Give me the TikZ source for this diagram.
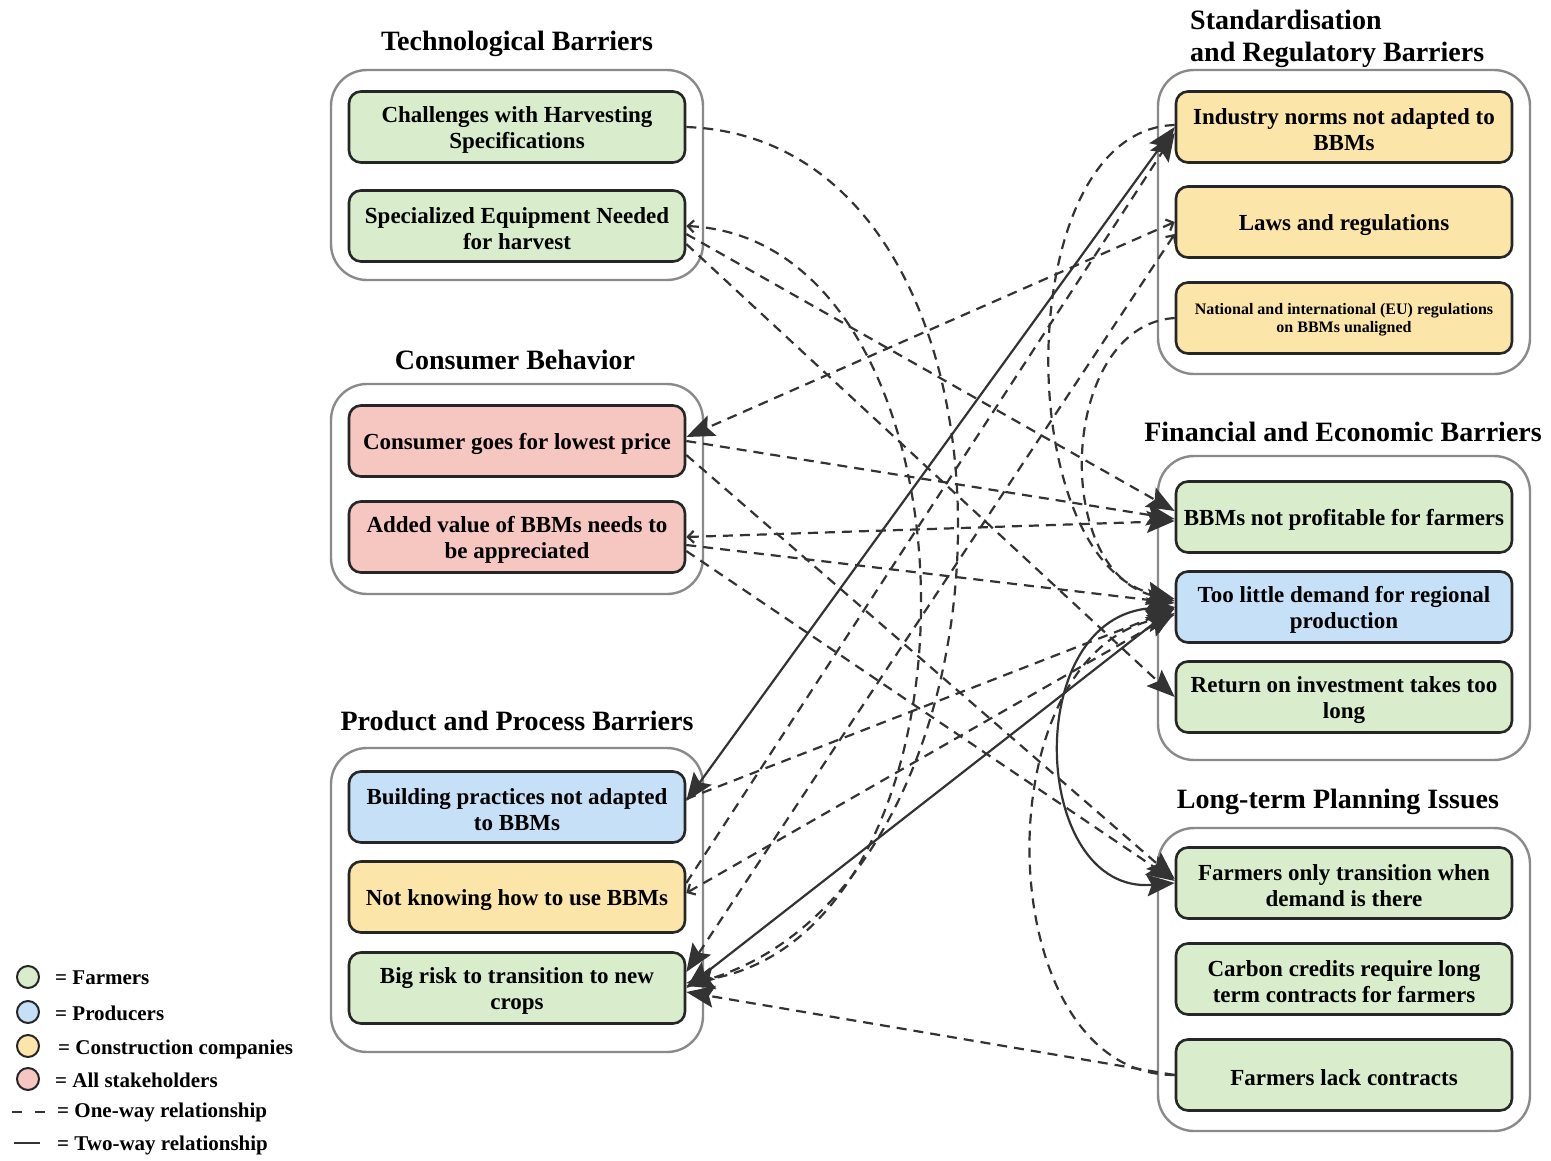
\documentclass[tikz,border=0pt]{standalone}
\usepackage{fontspec}
\setmainfont{Liberation Serif}
\usetikzlibrary{arrows.meta,calc}
\definecolor{gfill}{HTML}{D9ECCC}
\definecolor{bfill}{HTML}{C6E0F7}
\definecolor{yfill}{HTML}{FCE5A8}
\definecolor{rfill}{HTML}{F6C6C0}
\definecolor{grpc}{HTML}{8A8A8A}
\definecolor{edgec}{HTML}{333333}
\newcommand{\upA}{\rule{0pt}{22pt}}
\newcommand{\upB}{\rule{0pt}{15pt}}
\begin{document}
\begin{tikzpicture}[x=1pt,y=-1pt,
  grp/.style={draw=grpc, line width=2.4pt, rounded corners=36pt, fill=white, minimum width=372pt, inner sep=0pt},
  bx/.style={draw=black!85, line width=2.6pt, rounded corners=12pt, minimum width=336pt, minimum height=71pt, align=center, inner sep=0pt, font=\bfseries\fontsize{23}{26}\selectfont},
  smallbx/.style={font=\bfseries\fontsize{16}{18}\selectfont},
  ttl/.style={font=\bfseries\fontsize{28}{32}\selectfont, align=center, inner sep=0pt},
  lg/.style={font=\bfseries\fontsize{21}{24}\selectfont, anchor=west, inner sep=0pt},
  lc/.style={circle, draw=black!85, line width=2pt, minimum size=22pt, inner sep=0pt},
  dl/.style={draw=edgec, line width=2.2pt, dash pattern=on 10pt off 7pt},
  sl/.style={draw=edgec, line width=2.2pt},
  bigend/.style={-{Stealth[length=28pt,width=22pt,inset=5pt]}},
  bothend/.style={{Straight Barb[length=6pt,width=12pt]}-{Stealth[length=28pt,width=22pt,inset=5pt]}},
  twoway/.style={{Stealth[length=28pt,width=22pt,inset=5pt]}-{Stealth[length=28pt,width=22pt,inset=5pt]}}
]
\useasboundingbox (0,0) rectangle (1551,1160);

% containers
\node[grp, minimum height=210pt] (TG) at (517,175) {};
\node[grp, minimum height=210pt] (CG) at (517,489) {};
\node[grp, minimum height=304pt] (PG) at (517,900) {};
\node[grp, minimum height=304pt] (SG) at (1344,222) {};
\node[grp, minimum height=304pt] (FG) at (1344,608) {};
\node[grp, minimum height=303pt] (LG) at (1344,979.5) {};

% titles
\node[ttl] (TT) at (517,44) {Technological Barriers};
\node[ttl] (CT) at (515,360) {Consumer Behavior};
\node[ttl] (PT) at (517,721) {Product and Process Barriers};
\node[ttl, align=left, anchor=west] (ST) at (1190,39) {Standardisation\\and Regulatory Barriers};
\node[ttl] (FT) at (1343,432) {Financial and Economic Barriers};
\node[ttl] (LT) at (1338,802) {Long-term Planning Issues};

% boxes left
\node[bx, fill=gfill] (T1) at (517,127) {\upA Challenges with Harvesting\\Specifications};
\node[bx, fill=gfill] (T2) at (517,226) {\upA Specialized Equipment Needed\\for harvest};
\node[bx, fill=rfill] (C1) at (517,441) {\upA Consumer goes for lowest price};
\node[bx, fill=rfill] (C2) at (517,537) {\upA Added value of BBMs needs to\\be appreciated};
\node[bx, fill=bfill] (P1) at (517,807) {\upA Building practices not adapted\\to BBMs};
\node[bx, fill=yfill] (P2) at (517,897) {\upA Not knowing how to use BBMs};
\node[bx, fill=gfill] (P3) at (517,988) {\upA Big risk to transition to new\\crops};

% boxes right
\node[bx, fill=yfill] (S1) at (1344,127) {\upA Industry norms not adapted to\\BBMs};
\node[bx, fill=yfill] (S2) at (1344,222) {\upA Laws and regulations};
\node[bx, smallbx, fill=yfill] (S3) at (1344,318) {\upB National and international (EU) regulations\\on BBMs unaligned};
\node[bx, fill=gfill] (F1) at (1344,517) {\upA BBMs not profitable for farmers};
\node[bx, fill=bfill] (F2) at (1344,607) {\upA Too little demand for regional\\production};
\node[bx, fill=gfill] (F3) at (1344,697) {\upA Return on investment takes too\\long};
\node[bx, fill=gfill] (L1) at (1344,883) {\upA Farmers only transition when\\demand is there};
\node[bx, fill=gfill] (L2) at (1344,979) {\upA Carbon credits require long\\term contracts for farmers};
\node[bx, fill=gfill] (L3) at (1344,1075) {\upA Farmers lack contracts};

% dashed (one-way) connectors
\draw[dl,bigend] (T1.east) .. controls (1050,140) and (1040,880) .. ($(P3.east)+(0,-2)$);
\draw[dl,bothend] (T2.east) .. controls (990,240) and (1000,930) .. ($(P3.east)+(0,-5)$);
\draw[dl,bigend] ($(T2.east)+(0,8)$) -- ($(F1.west)+(0,-6)$);
\draw[dl,bigend] ($(T2.east)+(0,18)$) -- (F3.west);
\draw[dl,bigend] (C1.east) -- ($(F1.west)+(0,2)$);
\draw[dl,bothend] (C2.east) -- ($(F1.west)+(0,4)$);
\draw[dl,bigend] ($(C2.east)+(0,8)$) -- ($(F2.west)+(0,-4)$);
\draw[dl,bigend] ($(C1.east)+(0,14)$) -- ($(L1.west)+(0,-4)$);
\draw[dl,bigend] ($(C2.east)+(0,14)$) -- ($(L1.west)+(0,-2)$);
\draw[dl,bigend] ($(P1.east)+(0,-8)$) -- ($(F2.west)+(0,2)$);
\draw[dl,bothend] ($(P2.east)+(0,-4)$) -- ($(F2.west)+(0,6)$);
\draw[dl,bothend] (S2.west) -- ($(C1.east)+(0,-4)$);
\draw[dl,bigend] ($(P2.east)+(0,-14)$) -- ($(S1.west)+(0,6)$);
\draw[dl,bothend] ($(S2.west)+(0,12)$) -- ($(P3.east)+(0,-16)$);
\draw[dl,bigend] (S3.west) .. controls (1060,325) and (1050,570) .. ($(F2.west)+(0,-6)$);
\draw[dl,bigend] ($(S1.west)+(0,-2)$) .. controls (1010,130) and (1010,560) .. ($(F2.west)+(0,-8)$);
\draw[dl,bigend] (L3.west) .. controls (990,1075) and (980,660) .. ($(F2.west)+(0,8)$);
\draw[dl,bigend] (L3.west) -- ($(P3.east)+(0,4)$);

% solid (two-way) connectors
\draw[sl,twoway] (S1.west) -- ($(P1.east)+(0,-6)$);
\draw[sl,twoway] (F2.west) -- (P3.east);
\draw[sl,twoway] (F2.west) .. controls (1020,615) and (1030,895) .. (L1.west);

% legend
\node[lc, fill=gfill] (K1) at (28,977) {};
\node[lg] (K1t) at (55,978) {= Farmers};
\node[lc, fill=bfill] (K2) at (28,1012) {};
\node[lg] (K2t) at (55,1013) {= Producers};
\node[lc, fill=yfill] (K3) at (28,1046) {};
\node[lg] (K3t) at (58,1049) {= Construction companies};
\node[lc, fill=rfill] (K4) at (28,1079) {};
\node[lg] (K4t) at (55,1080) {= All stakeholders};
\coordinate (K5a) at (12,1112);
\coordinate (K5b) at (46,1112);
\draw[draw=edgec, line width=2pt, dash pattern=on 10pt off 13pt] (K5a) -- (K5b);
\node[lg] (K5t) at (57,1112) {= One-way relationship};
\coordinate (K6a) at (14,1143);
\coordinate (K6b) at (40,1143);
\draw[draw=edgec, line width=2pt] (K6a) -- (K6b);
\node[lg] (K6t) at (57,1145) {= Two-way relationship};
\end{tikzpicture}
\end{document}
